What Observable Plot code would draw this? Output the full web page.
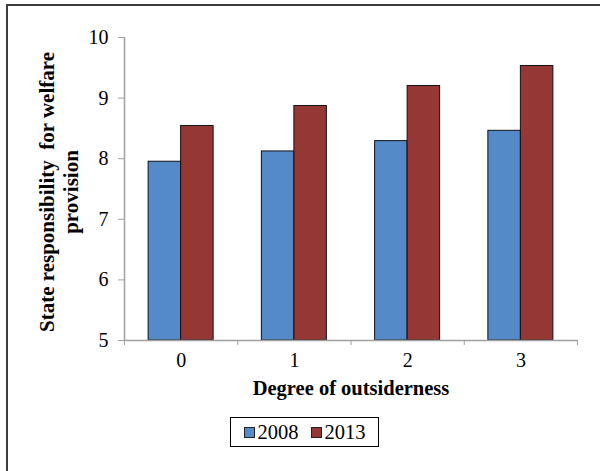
<!DOCTYPE html>
<html>
<head>
<meta charset="utf-8">
<script src="https://cdn.jsdelivr.net/npm/d3@7"></script>
<script src="https://cdn.jsdelivr.net/npm/@observablehq/plot@0.6"></script>
<style>
  body { margin: 0; background: #fff; font-family: "Liberation Serif", "Times New Roman", serif; }
  #wrap { position: relative; width: 600px; height: 471px; overflow: hidden; background: #fff; }
  #frame { position: absolute; left: 6px; top: 4px; width: 700px; height: 600px;
           border-left: 2px solid #3c3c3c; border-top: 2px solid #3c3c3c; pointer-events: none; }
  #chart { position: absolute; left: 0; top: 0; }
  #chart svg, #chart svg text { font-family: "Liberation Serif", "Times New Roman", serif !important; }
  #legend { position: absolute; left: 230px; top: 417px; width: 149px; height: 30px;
            border: 1px solid #000; box-sizing: border-box; display: flex; align-items: center;
            justify-content: center; font-size: 20.5px; color: #000; }
  .item { display: flex; align-items: center; margin: 0 6px; }
  .sw { width: 9px; height: 9px; border: 1px solid #222; margin-right: 3px; }
</style>
</head>
<body>
<div id="wrap">
  <div id="chart"></div>
  <div id="legend"></div>
  <div id="frame"></div>
</div>
<script>
const categories = [0, 1, 2, 3];
const seriesNames = ["2008", "2013"];
const values2008 = [7.95, 8.12, 8.29, 8.46];
const values2013 = [8.54, 8.87, 9.20, 9.53];
const yTicks = [5, 6, 7, 8, 9, 10];
const xTickLabels = ["0", "1", "2", "3"];
const colors = ["#558ac9", "#953735"];
const yTitle = "State responsibility\u00a0 for welfare\nprovision";
const xTitle = "Degree of outsiderness";

const rows = [];
categories.forEach((c, i) => {
  rows.push({cat: c, series: seriesNames[0], value: values2008[i]});
  rows.push({cat: c, series: seriesNames[1], value: values2013[i]});
});

const barW = 0.287;
const boundaries = [-0.5, 0.5, 1.5, 2.5, 3.5];
const axisColor = "#a0a0a0";
const serif = "'Liberation Serif', 'Times New Roman', serif";

const plot = Plot.plot({
  width: 600,
  height: 410,
  marginTop: 37,
  marginBottom: 70,
  marginLeft: 124,
  marginRight: 23,
  style: {fontFamily: serif, background: "transparent"},
  x: {type: "linear", domain: [-0.5, 3.5]},
  y: {domain: [5, 10]},
  color: {domain: seriesNames, range: colors},
  marks: [
    Plot.rect(rows, {
      x1: d => d.series === seriesNames[0] ? d.cat - barW : d.cat,
      x2: d => d.series === seriesNames[0] ? d.cat : d.cat + barW,
      y1: () => 5,
      y2: "value",
      fill: "series",
      stroke: "#111",
      strokeWidth: 1
    }),
    Plot.ruleY([5], {stroke: axisColor, strokeWidth: 1.5}),
    Plot.ruleX([-0.5], {stroke: axisColor, strokeWidth: 1.5}),
    Plot.axisY({ticks: yTicks, tickSize: 6, tickPadding: 10, fontSize: 20, label: null,
                tickFormat: d => String(d), fontFamily: serif,
                stroke: axisColor, fill: "#000"}),
    Plot.axisX({ticks: boundaries, tickSize: 5, tickFormat: () => "", label: null, stroke: axisColor}),
    Plot.axisX({ticks: categories, tickSize: 0, tickPadding: 12, fontSize: 20, label: null,
                fontFamily: serif,
                tickFormat: (d, i) => xTickLabels[i], fill: "#000"}),
    Plot.text([yTitle], {text: d => d, frameAnchor: "left", textAnchor: "middle", dx: -66, dy: 3,
                         rotate: -90, fontSize: 21, fontWeight: "bold", lineHeight: 1.13,
                         fontFamily: serif, fill: "#000"}),
    Plot.text([xTitle], {text: d => d, frameAnchor: "bottom", lineAnchor: "middle", dy: 48,
                         fontSize: 20.5, fontWeight: "bold", fontFamily: serif, fill: "#000"})
  ]
});
document.getElementById("chart").appendChild(plot);

const legend = document.getElementById("legend");
seriesNames.forEach((s, i) => {
  const it = document.createElement("div");
  it.className = "item";
  const sw = document.createElement("div");
  sw.className = "sw";
  sw.style.background = colors[i];
  const t = document.createElement("span");
  t.textContent = s;
  it.appendChild(sw); it.appendChild(t);
  legend.appendChild(it);
});
</script>
</body>
</html>
